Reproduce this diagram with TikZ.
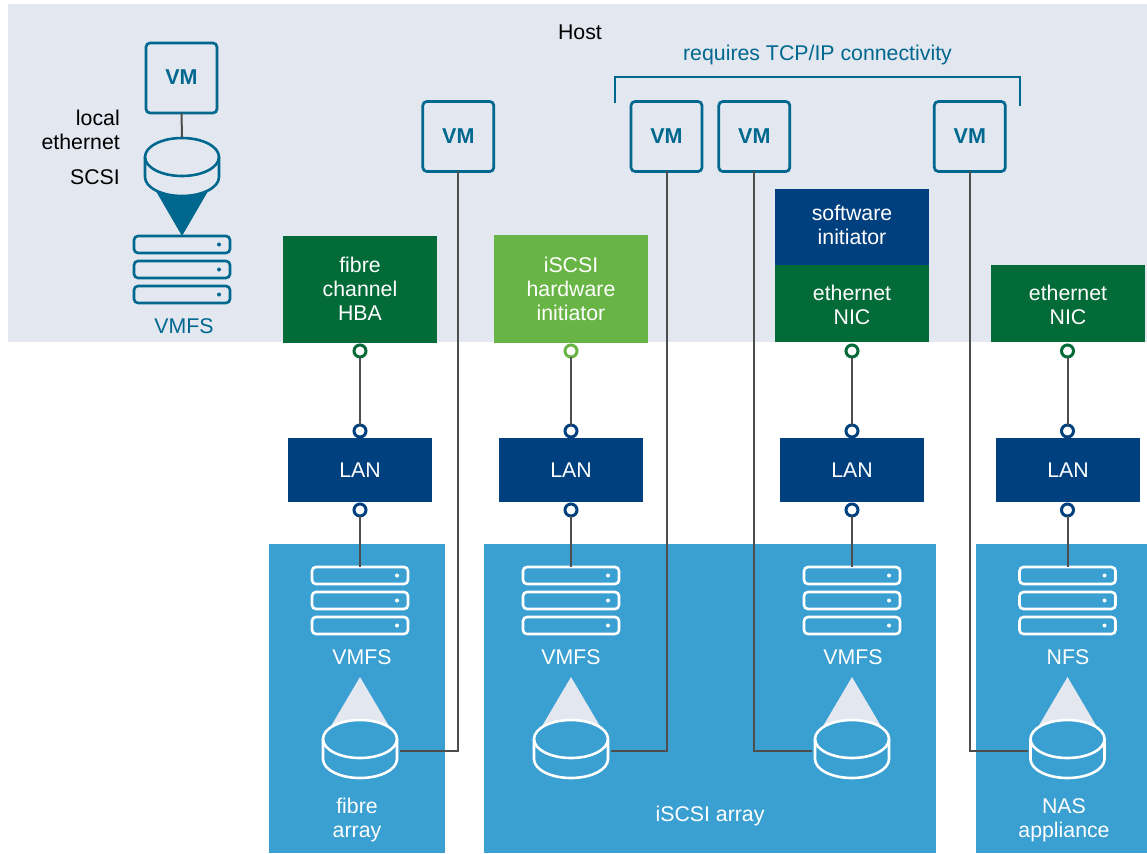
\documentclass[tikz,border=0pt]{standalone}
\usepackage{fontspec}
\setmainfont{Liberation Sans}
\definecolor{hostbg}{HTML}{E2E7F0}
\definecolor{teal}{HTML}{00688F}
\definecolor{panel}{HTML}{3A9FD1}
\definecolor{navy}{HTML}{00407F}
\definecolor{dgreen}{HTML}{036B38}
\definecolor{lgreen}{HTML}{68B545}
\definecolor{wire}{HTML}{4D4D4D}
\newcommand{\lblfont}{\fontsize{21.3}{24}\selectfont}
\tikzset{
  lbl/.style={font=\lblfont,align=center,inner sep=0pt},
  vmbox/.style={draw=teal,line width=2.7pt,rounded corners=4pt,minimum width=71pt,minimum height=70pt,outer sep=0pt,inner sep=0pt,text=teal,font=\fontsize{21.5}{24}\selectfont\bfseries},
  block/.style={minimum width=154pt,outer sep=0pt,inner sep=0pt},
  lanbox/.style={fill=navy,minimum width=144pt,minimum height=64pt,outer sep=0pt,inner sep=0pt,text=white,font=\lblfont},
  port/.style={circle,draw=#1,fill=white,line width=3pt,minimum size=12pt,inner sep=0pt,outer sep=0pt},
  wirel/.style={draw=wire,line width=2pt},
  anchorbox/.style={minimum width=76pt,minimum height=1pt,inner sep=0pt,outer sep=0pt},
  stackpt/.style={minimum width=1pt,minimum height=1pt,inner sep=0pt,outer sep=0pt},
}
% stack: name, centre x, top y, colour
\newcommand{\serverstack}[4]{%
  \foreach \dy in {0,25,50}{%
    \draw[#4,line width=2.6pt,rounded corners=4pt] (#2-48,#3+\dy) rectangle (#2+48,#3+\dy+17);
    \fill[#4] (#2+37,#3+\dy+8.5) circle (2pt);
  }%
  \node[stackpt] (#1) at (#2,#3) {};%
}
% disk: name, centre x, centre y of top ellipse, line colour, port y
\newcommand{\diskshape}[5]{%
  \draw[#4,line width=2.6pt] (#2-37,#3) -- (#2-37,#3+20) arc[start angle=180,end angle=0,x radius=37,y radius=19] -- (#2+37,#3);
  \draw[#4,line width=2.6pt] (#2,#3) ellipse [x radius=37,y radius=19];
  \node[anchorbox] (#1) at (#2,#5) {};%
}
\newcommand{\vmtext}{\raisebox{1pt}{VM}}
\begin{document}
\begin{tikzpicture}[x=1pt,y=-1pt]
\useasboundingbox (0,0) rectangle (1147,853);
% backgrounds
\fill[hostbg] (8,4) rectangle (1147,342);
\fill[panel] (269,544) rectangle (445,853);
\fill[panel] (484,544) rectangle (936,853);
\fill[panel] (976,544) rectangle (1147,853);

% cones on storage
\foreach \cx in {360,571,852,1067.5}{
  \fill[hostbg] (\cx,677) -- (\cx+29.5,727) -- (\cx-29.5,727) -- cycle;
  \fill[panel] (\cx,739) ellipse [x radius=37,y radius=19];
}
% host local cone
\fill[teal] (182,236) -- (153,186) -- (211,186) -- cycle;
\fill[hostbg] (145,157) -- (145,177) arc[start angle=180,end angle=0,x radius=37,y radius=19] -- (219,157) -- cycle;

% VMs
\node[vmbox] (vm0) at (181.5,78) {\vmtext};
\node[vmbox] (vm1) at (458.3,136.5) {\vmtext};
\node[vmbox] (vm2) at (666.5,136.5) {\vmtext};
\node[vmbox] (vm3) at (754.3,136.5) {\vmtext};
\node[vmbox] (vm4) at (969.8,136.5) {\vmtext};

% local storage
\diskshape{disk0}{182}{157}{teal}{138}
\serverstack{stack0}{182}{236}{teal}

% adapters
\node[block,fill=dgreen,minimum height=107pt] (hba) at (360,289.5) {};
\node[block,fill=lgreen,minimum height=108pt] (hwi) at (571,289) {};
\node[block,fill=navy,minimum height=76pt] (swi) at (852,227) {};
\node[block,fill=dgreen,minimum height=77pt] (nic1) at (852,303.5) {};
\node[block,fill=dgreen,minimum height=77pt] (nic2) at (1068,303.5) {};
\node[lbl,text=white] (hbat) at (360,288.5) {fibre\\channel\\HBA};
\node[lbl,text=white] (hwit) at (571,288.5) {iSCSI\\hardware\\initiator};
\node[lbl,text=white] (swit) at (852,224.5) {software\\initiator};
\node[lbl,text=white] (nic1t) at (852,304.5) {ethernet\\NIC};
\node[lbl,text=white] (nic2t) at (1068,304.5) {ethernet\\NIC};

% LANs
\node[lanbox] (lan1) at (360,470) {LAN};
\node[lanbox] (lan2) at (571,470) {LAN};
\node[lanbox] (lan3) at (852,470) {LAN};
\node[lanbox] (lan4) at (1068,470) {LAN};

% array storage
\serverstack{stack1}{360}{567}{white}
\serverstack{stack2}{571}{567}{white}
\serverstack{stack3}{852}{567}{white}
\serverstack{stack4}{1067.5}{567}{white}
\diskshape{disk1}{360}{739}{white}{751}
\diskshape{disk2}{571}{739}{white}{751}
\diskshape{disk3}{852}{739}{white}{751}
\diskshape{disk4}{1067.5}{739}{white}{751}

% ports
\foreach \n/\cx/\col in {1/360/dgreen,2/571/lgreen,3/852/dgreen,4/1067.5/dgreen}{
  \node[port=\col] (pa\n) at (\cx,351) {};
  \node[port=navy] (pb\n) at (\cx,431) {};
  \node[port=navy] (pc\n) at (\cx,510) {};
}
% connectors
\draw[wirel] (vm0.south) -- (disk0.north);
\foreach \n in {1,2,3,4}{
  \draw[wirel] (pa\n.south) -- (pb\n.north);
  \draw[wirel] (pc\n.south) -- (stack\n.north);
}
\draw[wirel] (vm1.south) |- ([xshift=2pt]disk1.east);
\draw[wirel] (vm2.south) |- ([xshift=2pt]disk2.east);
\draw[wirel] (vm3.south) |- ([xshift=-2pt]disk3.west);
\draw[wirel] (vm4.south) |- ([xshift=-2pt]disk4.west);

% bracket
\coordinate (brl) at (615,102.7);
\coordinate (brr) at (1020,105.7);
\draw[teal,line width=2pt] (brl) -- (615,77.5) -- (1020,77.5) -- (brr);

% labels
\node[lbl] (host) at (580,32) {Host};
\node[lbl,text=teal] (tcp) at (817.5,55) {requires TCP/IP connectivity};
\node[lbl,align=right,anchor=east] (localeth) at (120,130) {local\\ethernet};
\node[lbl,anchor=east] (scsi) at (120,177.5) {SCSI};
\node[lbl,text=teal] (vmfs0) at (184,326) {VMFS};
\node[lbl,text=white] (vmfs1) at (362,657.5) {VMFS};
\node[lbl,text=white] (vmfs2) at (571,657.5) {VMFS};
\node[lbl,text=white] (vmfs3) at (853,657.5) {VMFS};
\node[lbl,text=white] (nfs) at (1068,657.5) {NFS};
\node[lbl,text=white] (fibre) at (357,820) {fibre\\array};
\node[lbl,text=white] (iscsi) at (710,816) {iSCSI array};
\node[lbl,text=white] (nas) at (1064,820) {NAS\\appliance};
\end{tikzpicture}
\end{document}
